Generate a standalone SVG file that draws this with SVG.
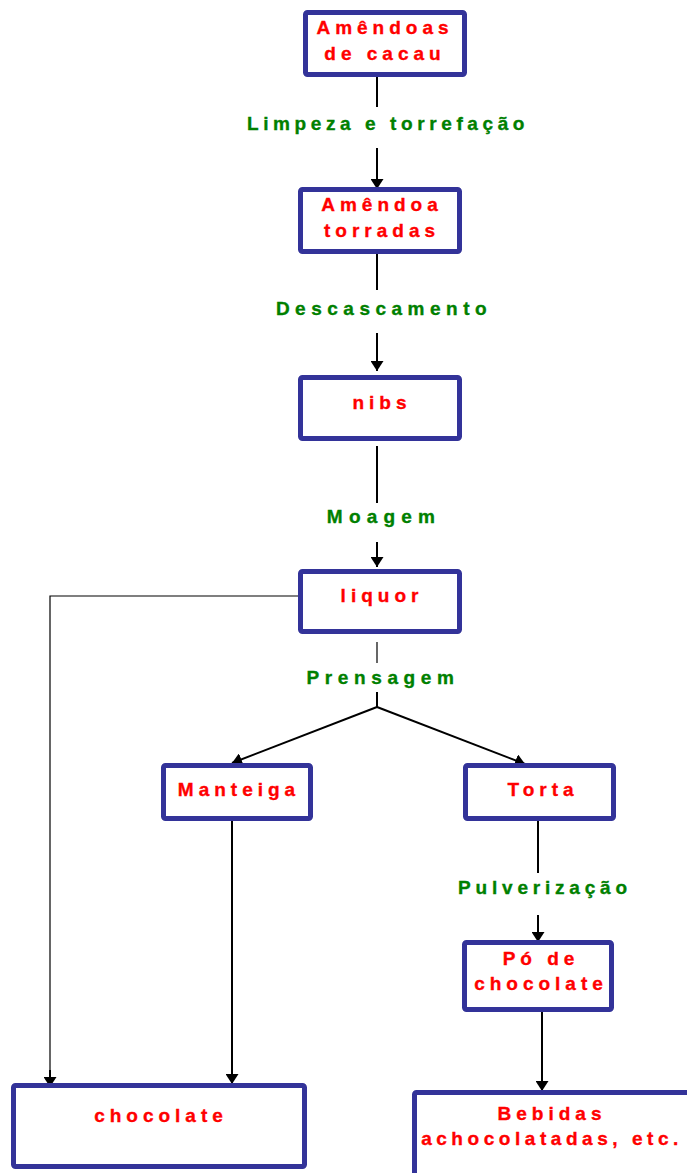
<svg xmlns="http://www.w3.org/2000/svg" width="687" height="1173" viewBox="0 0 687 1173">
<style>
.box{fill:#fff;stroke:#333399;stroke-width:5;}
.t{font-family:"Liberation Sans",Arial,sans-serif;font-weight:bold;font-size:19px;fill:#ff0000;stroke:#ff0000;stroke-width:0.35;letter-spacing:5px;text-anchor:middle;}
.g{font-family:"Liberation Sans",Arial,sans-serif;font-weight:bold;font-size:19px;fill:#008000;stroke:#008000;stroke-width:0.35;text-anchor:middle;}
.c{stroke:#000;stroke-width:2;fill:none;}
.thin{stroke:#000;stroke-width:1.2;fill:none;}
</style>
<defs>
<marker id="ah" viewBox="0 0 10 13" refX="10" refY="6.5" markerWidth="10" markerHeight="13" markerUnits="userSpaceOnUse" orient="auto">
<path d="M0,0 L10,6.5 L0,13 Z" fill="#000"/>
</marker>
</defs>
<rect width="687" height="1173" fill="#fff"/>
<g id="connectors">
<line class="c" x1="377" y1="77" x2="377" y2="107"/>
<line class="c" x1="377" y1="148" x2="377" y2="189" marker-end="url(#ah)"/>
<line class="c" x1="377" y1="254" x2="377" y2="290"/>
<line class="c" x1="377" y1="333" x2="377" y2="371" marker-end="url(#ah)"/>
<line class="c" x1="377" y1="446" x2="377" y2="503"/>
<line class="c" x1="377" y1="542" x2="377" y2="567" marker-end="url(#ah)"/>
<polyline class="thin" points="306,596 50,596 50,1075"/>
<line class="c" x1="50" y1="1070" x2="50" y2="1087" marker-end="url(#ah)"/>
<line class="thin" x1="377" y1="642" x2="377" y2="663"/>
<line class="c" x1="377" y1="692" x2="377" y2="707"/>
<line class="c" x1="377" y1="707" x2="232" y2="763" marker-end="url(#ah)"/>
<line class="c" x1="377" y1="707" x2="525" y2="764" marker-end="url(#ah)"/>
<line class="c" x1="232" y1="821" x2="232" y2="1084" marker-end="url(#ah)"/>
<line class="c" x1="538" y1="821" x2="538" y2="873"/>
<line class="c" x1="538" y1="915" x2="538" y2="942" marker-end="url(#ah)"/>
<line class="c" x1="542" y1="1008" x2="542" y2="1091" marker-end="url(#ah)"/>
</g>
<g id="n1">
<rect class="box" x="305.5" y="12.5" width="159" height="62" rx="2"/>
<text class="t" x="385" y="34">Amêndoas</text>
<text class="t" x="385" y="60">de cacau</text>
</g>
<g id="l1"><text class="g" x="388" y="130" style="letter-spacing:4.6px">Limpeza e torrefação</text></g>
<g id="n2">
<rect class="box" x="300.5" y="189.5" width="159" height="62" rx="2"/>
<text class="t" x="382" y="211">Amêndoa</text>
<text class="t" x="382" y="237">torradas</text>
</g>
<g id="l2"><text class="g" x="384" y="315" style="letter-spacing:5.5px">Descascamento</text></g>
<g id="n3">
<rect class="box" x="300.5" y="377.5" width="159" height="61" rx="2"/>
<text class="t" x="382" y="409">nibs</text>
</g>
<g id="l3"><text class="g" x="384" y="523" style="letter-spacing:6.2px">Moagem</text></g>
<g id="n4">
<rect class="box" x="300.5" y="571.5" width="159" height="60" rx="2"/>
<text class="t" x="382" y="602">liquor</text>
</g>
<g id="l4"><text class="g" x="383" y="684" style="letter-spacing:5.6px">Prensagem</text></g>
<g id="n5">
<rect class="box" x="163.5" y="765.5" width="147" height="53" rx="2"/>
<text class="t" x="239" y="796">Manteiga</text>
</g>
<g id="n6">
<rect class="box" x="465.5" y="765.5" width="148" height="53" rx="2"/>
<text class="t" x="543" y="796">Torta</text>
</g>
<g id="l5"><text class="g" x="545" y="894" style="letter-spacing:4.8px">Pulverização</text></g>
<g id="n7">
<rect class="box" x="464.5" y="942.5" width="147" height="67" rx="2"/>
<text class="t" x="541" y="965">Pó de</text>
<text class="t" x="541" y="990">chocolate</text>
</g>
<g id="n8">
<rect class="box" x="13.5" y="1085.5" width="291" height="81" rx="2"/>
<text class="t" x="161" y="1122">chocolate</text>
</g>
<g id="n9">
<rect class="box" x="414.5" y="1092.5" width="280" height="90" rx="2"/>
<text class="t" x="552" y="1120">Bebidas</text>
<text class="t" x="552" y="1145" style="letter-spacing:4.55px">achocolatadas, etc.</text>
</g>
</svg>
